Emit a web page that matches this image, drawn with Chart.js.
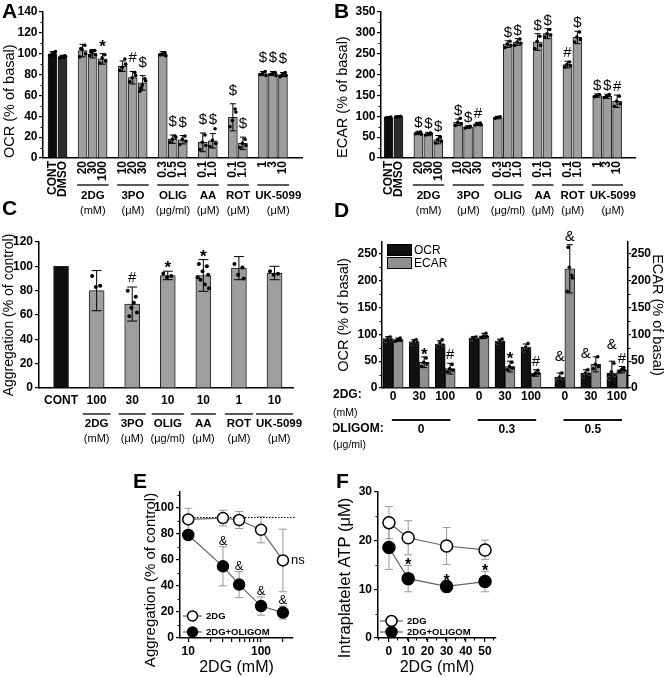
<!DOCTYPE html>
<html>
<head>
<meta charset="utf-8">
<title>Platelet metabolism panels</title>
<script src="https://cdn.jsdelivr.net/npm/chart.js@4.4.1/dist/chart.umd.min.js"></script>
<style>
  body { margin: 0; background: #fff; }
  #fig { position: relative; width: 666px; height: 677px; overflow: hidden; font-family: 'Liberation Sans', Arial, sans-serif; }
  #fig canvas { position: absolute; }
  .panel { position: absolute; font-size: 21px; font-weight: bold; line-height: 21px; color: #000; }
</style>
</head>
<body>
<div id="fig">
  <canvas id="chartA" width="333" height="225" style="left:0;top:0"></canvas>
  <canvas id="chartB" width="333" height="225" style="left:333px;top:0"></canvas>
  <canvas id="chartC" width="333" height="240" style="left:0;top:225px"></canvas>
  <canvas id="chartD" width="333" height="240" style="left:333px;top:225px"></canvas>
  <canvas id="chartE" width="333" height="217" style="left:0;top:460px"></canvas>
  <canvas id="chartF" width="333" height="217" style="left:333px;top:460px"></canvas>
  <div class="panel" style="left:2px;top:0">A</div>
  <div class="panel" style="left:334px;top:0">B</div>
  <div class="panel" style="left:2px;top:197px">C</div>
  <div class="panel" style="left:334px;top:199px">D</div>
  <div class="panel" style="left:133px;top:470px">E</div>
  <div class="panel" style="left:336px;top:470px">F</div>
</div>
<script>
const FONT = "'Liberation Sans', Arial, sans-serif";

// ---- A / B : treatments (slot = category position, gaps between groups)
const slotAB = [0, 1, 3, 4, 5, 7, 8, 9, 11, 12, 13, 15, 16, 18, 19, 21, 22, 23];
const doseAB = ['CONT', 'DMSO', '20', '30', '100', '10', '20', '30', '0.3', '0.5', '1.0', '0.1', '1.0', '0.1', '1.0', '1', '3', '10'];
const drugGroups = [
  { name: '2DG', unit: '(mM)', first: 2, last: 4 },
  { name: '3PO', unit: '(μM)', first: 5, last: 7 },
  { name: 'OLIG', unit: '(μg/ml)', first: 8, last: 10 },
  { name: 'AA', unit: '(μM)', first: 11, last: 12 },
  { name: 'ROT', unit: '(μM)', first: 13, last: 14 },
  { name: 'UK-5099', unit: '(μM)', first: 15, last: 17 }
];

const ocrA = [100, 97, 103, 100, 95, 88, 77, 72, 100, 18, 17.5, 15, 16.5, 39, 14, 81, 81, 80];
const ocrAErr = [2, 1.5, 6, 4, 5, 5, 6, 7, 2, 4, 4, 9, 7, 13, 6, 2, 2, 2];
const ocrASig = ['', '', '', '', '*', '', '#', '$', '', '$', '$', '$', '$', '$', '$', '$', '$', '$'];
const ocrADots = [
  [98, 101, 100, 102], [96, 98, 97, 97.5],
  [97, 108, 104, 100, 105], [98, 103, 101, 99, 102], [91, 99, 96, 93],
  [84, 95, 87, 90], [73, 82, 77, 79], [64, 76, 70, 74, 67],
  [99, 101, 100, 98], [15, 21, 18, 20], [13, 21, 18, 16],
  [8, 22, 15, 12], [11, 28, 17, 14],
  [30, 47, 36, 44], [10, 18, 14, 12],
  [80, 83, 81, 79], [80, 82, 81, 79], [78, 82, 80, 79]
];

const ecarB = [97, 99, 60, 57.5, 44, 85.5, 74, 81.5, 97, 273, 278, 278, 298, 224, 289, 149.5, 148, 136];
const ecarBErr = [1.5, 2, 4, 4, 10, 8, 3, 4, 3, 8, 8, 20, 12, 8, 15, 4, 5, 15];
const ecarBSig = ['', '', '$', '$', '$', '$', '$', '#', '', '$', '$', '$', '$', '#', '$', '$', '$', '#'];
const ecarBDots = [
  [96, 98, 97], [98, 100, 99],
  [58, 62, 60, 57], [55, 60, 57, 58], [36, 50, 44, 40],
  [78, 95, 85, 82], [72, 76, 74], [79, 84, 82, 80],
  [95, 99, 97], [265, 280, 273, 270], [270, 285, 278, 275],
  [262, 292, 280, 270], [290, 308, 298, 295],
  [218, 230, 224, 221], [278, 302, 290, 284],
  [147, 152, 150], [145, 152, 148], [124, 148, 136, 130]
];

// ---- C : aggregation
const doseC = ['CONT', '100', '30', '10', '10', '1', '10'];
const aggC = [100, 80, 69, 92.5, 92.5, 98.5, 94.5];
const aggCErr = [0, 16.5, 14, 3.5, 13, 9.5, 5.5];
const aggCSig = ['', '', '#', '*', '*', '', ''];
const aggCDots = [[], [92, 84, 83], [80, 75, 66, 62, 59, 70], [94, 92, 91], [102, 100, 96, 93, 89, 85, 82, 91], [102, 99, 93, 90], [96, 94, 93]];
const groupsC = [
  { name: '2DG', unit: '(mM)' }, { name: '3PO', unit: '(μM)' }, { name: 'OLIG', unit: '(μg/ml)' },
  { name: 'AA', unit: '(μM)' }, { name: 'ROT', unit: '(μM)' }, { name: 'UK-5099', unit: '(μM)' }
];

// ---- D : OCR / ECAR with 2DG and oligomycin
const slotD = [0, 1, 2, 3.3, 4.3, 5.3, 6.6, 7.6, 8.6];
const doseD = ['0', '30', '100', '0', '30', '100', '0', '30', '100'];
const oligoD = ['0', '0.3', '0.5'];
const ocrD = [92, 86, 82, 93, 87, 76, 20, 28, 28];
const ocrDErr = [4, 4, 6, 3, 4, 6, 8, 6, 22];
const ocrDSig = ['', '', '', '', '', '', '&', '&', '&'];
const ecarD = [90, 48, 36, 97, 40, 28, 222, 44, 34];
const ecarDErr = [3, 10, 10, 5, 10, 6, 45, 14, 6];
const ecarDSig = ['', '*', '#', '', '*', '#', '&', '', '#'];
const ocrDDots = [[88, 95, 92, 90], [82, 90, 87, 85], [78, 90, 84, 80], [91, 95, 93], [84, 91, 87], [70, 83, 76, 73], [14, 28, 20, 17], [22, 34, 28, 26], [18, 46, 30, 24]];
const ecarDDots = [[87, 93, 90, 89], [40, 56, 48, 45], [30, 44, 36, 33], [94, 102, 97, 96], [34, 48, 40, 37], [24, 33, 28, 27], [180, 210, 225, 205, 262], [36, 58, 44, 40], [30, 38, 34, 33]];

// ---- E : aggregation vs 2DG (log)
const doseE = [10, 30, 50, 100, 200];
const ticksE = [10, 20, 30, 40, 50, 60, 70, 80, 90, 100, 200];
const labelsE = [10, 100];
const aggE = [91, 92, 90.5, 83, 59.5];
const aggEErr = [8.5, 6, 6.5, 10, 24];
const aggEO = [79, 55, 41, 24.5, 19.5];
const aggEOErr = [3, 15, 10, 7, 5];
const sigEO = ['', '&', '&', '&', '&'];
const ctrlLevelE = 93;

// ---- F : intraplatelet ATP
const doseF = [0, 10, 30, 50];
const ticksF = [0, 10, 20, 30, 40, 50];
const atpF = [23.7, 20.6, 18.9, 18.1];
const atpFErr = [3.3, 3.5, 3.8, 2];
const atpFO = [18.6, 12.2, 10.6, 11.6];
const atpFOErr = [4.5, 2.7, 1.2, 2.1];
const sigFO = ['', '*', '*', '*'];

Chart.defaults.font.family = FONT;
Chart.defaults.color = '#000';

const tickFont = { family: FONT, size: 12, weight: 'bold' };
const JIT = [-0.28, 0.22, -0.05, 0.3, -0.18, 0.1, 0.35, -0.35];

function dotData(xs, dots, shift, spread) {
  const pts = [];
  dots.forEach((vals, i) => vals.forEach((v, k) => pts.push({ x: xs[i] + shift + JIT[k % JIT.length] * spread, y: v })));
  return pts;
}

function line(ctx, x1, y1, x2, y2) {
  ctx.beginPath(); ctx.moveTo(x1, y1); ctx.lineTo(x2, y2); ctx.stroke();
}

function text(ctx, s, x, y, font, align, base) {
  ctx.font = font;
  ctx.fillStyle = '#000';
  ctx.textAlign = align || 'center';
  ctx.textBaseline = base || 'middle';
  ctx.fillText(s, x, y);
}

// group captions under the axis; names are pushed right when they would touch
function groupCaptions(ctx, spans, yLine, yName, yUnit) {
  let prevRight = -Infinity;
  spans.forEach(g => {
    ctx.strokeStyle = '#222'; ctx.lineWidth = 1.5;
    line(ctx, g.x1, yLine, g.x2, yLine);
    ctx.font = 'bold 11.5px ' + FONT;
    const w = ctx.measureText(g.name).width;
    const cx = Math.max((g.x1 + g.x2) / 2, prevRight + 5 + w / 2);
    prevRight = cx + w / 2;
    text(ctx, g.name, cx, yName, 'bold 11.5px ' + FONT);
    text(ctx, g.unit, cx, yUnit, '11px ' + FONT);
  });
}

// error bars + significance marks, sets = [{ds, means, errs, sig, ...}]
function errPlugin(sets, under) {
  const draw = chart => {
    const ctx = chart.ctx;
    sets.forEach(s => {
      const meta = chart.getDatasetMeta(s.ds);
      const ys = chart.scales[meta.yAxisID];
      meta.data.forEach((el, i) => {
        const m = s.means[i], e = s.errs[i];
        const top = ys.getPixelForValue(m + e), bot = ys.getPixelForValue(m - e);
        ctx.save();
        ctx.strokeStyle = s.color || '#000';
        ctx.lineWidth = s.lw || 1;
        if (e > 0) {
          line(ctx, el.x, top, el.x, bot);
          line(ctx, el.x - s.cap, top, el.x + s.cap, top);
          line(ctx, el.x - s.cap, bot, el.x + s.cap, bot);
        }
        const t = s.sig && s.sig[i];
        if (t) {
          const font = t === '*' ? (s.starFont || 'bold 17px ' + FONT) : (s.sigFont || '15px ' + FONT);
          text(ctx, t, el.x, top - s.gap + (t === '*' ? 7 : 0), font, 'center', 'alphabetic');
        }
        ctx.restore();
      });
    });
  };
  return under ? { id: 'errUnder', beforeDatasetsDraw: draw } : { id: 'errOver', afterDatasetsDraw: draw };
}

function drawMinor(chart, id, step, major) {
  const s = chart.scales[id], ctx = chart.ctx;
  ctx.save(); ctx.strokeStyle = '#000'; ctx.lineWidth = 1;
  for (let v = s.min; v <= s.max + 1e-9; v += step) {
    if (Math.abs(v / major - Math.round(v / major)) < 1e-6) continue;
    const p = Math.round(s.getPixelForValue(v)) + 0.5;
    if (s.isHorizontal()) line(ctx, p, s.top, p, s.top + 2.5);
    else if (s.position === 'right') line(ctx, s.left, p, s.left + 2.5, p);
    else line(ctx, s.right, p, s.right - 2.5, p);
  }
  ctx.restore();
}

function yAxis(o) {
  return {
    position: o.pos || 'left', min: o.min, max: o.max,
    ticks: { stepSize: o.step, includeBounds: false, font: tickFont, color: '#000', padding: o.pad == null ? 2 : o.pad },
    grid: { drawOnChartArea: false, drawTicks: true, tickLength: o.tl || 4, color: '#000', lineWidth: 1.2 },
    border: { color: '#000', width: 1.5 },
    title: o.title
      ? { display: true, text: o.title, font: { family: FONT, size: o.titleSize || 14.5 }, color: '#000', padding: { top: o.tpad == null ? 1 : o.tpad, bottom: 0 }, align: o.align || 'center' }
      : { display: false },
    afterFit: s => { s.width = o.width; }
  };
}

function xAxis(o) {
  return {
    type: o.type || 'linear', min: o.min, max: o.max, offset: false,
    afterBuildTicks: s => { s.ticks = o.ticks.map(v => ({ value: v })); },
    ticks: { autoSkip: false, maxRotation: o.rot || 0, minRotation: o.rot || 0, font: tickFont, color: '#000', padding: o.pad, callback: o.label },
    grid: o.marks ? { drawOnChartArea: false, drawTicks: true, tickLength: 4, color: '#000', lineWidth: 1.2, offset: false } : { display: false, drawTicks: false, offset: false },
    border: { color: '#000', width: 1.5 },
    title: o.title ? { display: true, text: o.title, font: { family: FONT, size: 16 }, color: '#000', padding: { top: 0, bottom: 0 } } : { display: false },
    afterFit: s => { s.height = o.height; }
  };
}

const baseOpts = {
  responsive: false, animation: false, devicePixelRatio: 1,
  events: [],
  plugins: { legend: { display: false }, tooltip: { enabled: false } }
};

// ---------- A and B ----------
function treatmentChart(id, o) {
  const colors = doseAB.map((d, i) => i === 0 ? '#0d0d0d' : i === 1 ? '#2b2b2b' : '#9e9e9e');
  return new Chart(document.getElementById(id), {
    type: 'bar',
    data: {
      datasets: [
        { data: slotAB.map((x, i) => ({ x, y: o.means[i] })), backgroundColor: colors, borderColor: '#222', borderWidth: 1, barThickness: 9, order: 1 },
        { type: 'scatter', data: dotData(slotAB, o.dots, 0, 1), pointRadius: 1.8, backgroundColor: '#000', borderWidth: 0, order: 0 }
      ]
    },
    options: Object.assign({}, baseOpts, {
      layout: { padding: { top: 12, right: 31, left: 0, bottom: 0 } },
      scales: {
        x: xAxis({ min: o.xMin, max: o.xMax, ticks: slotAB, rot: 90, pad: 3, height: 67, label: (v, i) => doseAB[i] }),
        y: yAxis({ min: 0, max: o.yMax, step: o.step, width: o.yWidth, title: o.title, align: 'start', tl: 4, pad: 1.5 })
      }
    }),
    plugins: [
      errPlugin([{ ds: 0, means: o.means, errs: o.errs, sig: o.sig, cap: 3, gap: o.gap }]),
      {
        id: 'groups',
        afterDraw(chart) {
          const ctx = chart.ctx, xs = chart.scales.x;
          drawMinor(chart, 'y', o.minor, o.step);
          ctx.save();
          groupCaptions(ctx, drugGroups.map(g => ({
            name: g.name, unit: g.unit,
            x1: xs.getPixelForValue(slotAB[g.first] - 0.55),
            x2: xs.getPixelForValue(slotAB[g.last] + 0.6)
          })), 185, 196, 211);
          ctx.restore();
        }
      }
    ]
  });
}

treatmentChart('chartA', {
  means: ocrA, errs: ocrAErr, sig: ocrASig, dots: ocrADots, xMin: -0.95, xMax: 24.9,
  yMax: 140, step: 20, minor: 10, yWidth: 43, title: 'OCR (% of basal)', gap: 9
});
treatmentChart('chartB', {
  means: ecarB, errs: ecarBErr, sig: ecarBSig, dots: ecarBDots, xMin: -0.76, xMax: 24.8,
  yMax: 350, step: 50, minor: 25, yWidth: 48, title: 'ECAR (% of basal)', gap: 4
});

// ---------- C ----------
const slotC = doseC.map((d, i) => i);
new Chart(document.getElementById('chartC'), {
  type: 'bar',
  data: {
    datasets: [
      { data: slotC.map(x => ({ x, y: aggC[x] })), backgroundColor: slotC.map(i => i === 0 ? '#0d0d0d' : '#9e9e9e'), borderColor: '#222', borderWidth: 1, barThickness: 15, order: 1 },
      { type: 'scatter', data: dotData(slotC, aggCDots, 0, 0.45), pointRadius: 2, backgroundColor: '#000', borderWidth: 0, order: 0 }
    ]
  },
  options: Object.assign({}, baseOpts, {
    layout: { padding: { top: 17, right: 40, left: 0, bottom: 0 } },
    scales: {
      x: xAxis({ min: -0.62, max: 6.52, ticks: slotC, pad: 5, height: 77, label: (v, i) => doseC[i] }),
      y: yAxis({ min: 0, max: 120, step: 20, width: 39, title: 'Aggregation (% of control)', titleSize: 14, tl: 4, pad: 2 })
    }
  }),
  plugins: [
    errPlugin([{ ds: 0, means: aggC, errs: aggCErr, sig: aggCSig, cap: 5, gap: 5 }]),
    {
      id: 'groupsC',
      afterDraw(chart) {
        const ctx = chart.ctx, xs = chart.scales.x;
        ctx.save();
        ctx.font = 'bold 11.5px ' + FONT;
        groupCaptions(ctx, groupsC.map((g, k) => {
          const cx = xs.getPixelForValue(slotC[k + 1]);
          const w = Math.min(Math.max(ctx.measureText(g.name).width + 4, 25), 37);
          return { name: g.name, unit: g.unit, x1: cx - w / 2, x2: cx + w / 2 };
        }), 189, 199, 214);
        ctx.restore();
      }
    }
  ]
});

// ---------- D ----------
new Chart(document.getElementById('chartD'), {
  type: 'bar',
  data: {
    datasets: [
      { label: 'OCR', data: slotD.map((x, i) => ({ x, y: ocrD[i] })), backgroundColor: '#111', borderColor: '#000', borderWidth: 1, barThickness: 10, yAxisID: 'y', order: 2 },
      { label: 'ECAR', data: slotD.map((x, i) => ({ x, y: ecarD[i] })), backgroundColor: '#8f8f8f', borderColor: '#222', borderWidth: 1, barThickness: 10, yAxisID: 'y2', order: 3 },
      { type: 'scatter', data: dotData(slotD, ocrDDots, -0.19, 0.35), pointRadius: 1.8, backgroundColor: '#000', borderColor: '#777', borderWidth: 0.6, yAxisID: 'y', order: 0 },
      { type: 'scatter', data: dotData(slotD, ecarDDots, 0.19, 0.35), pointRadius: 1.8, backgroundColor: '#000', borderWidth: 0, yAxisID: 'y2', order: 1 }
    ]
  },
  options: Object.assign({}, baseOpts, {
    layout: { padding: { top: 17, right: 0, left: 0, bottom: 0 } },
    scales: {
      x: xAxis({ min: -0.43, max: 9.03, ticks: slotD, pad: 1, height: 77, label: (v, i) => doseD[i] }),
      y: yAxis({ min: 0, max: 272, step: 50, width: 49, title: 'OCR (% of basal)', tl: 3, pad: 1.5, tpad: 2 }),
      y2: yAxis({ pos: 'right', min: 0, max: 272, step: 50, width: 38, title: 'ECAR (% of basal)', tl: 3, pad: 0, tpad: 0 })
    }
  }),
  plugins: [
    errPlugin([
      { ds: 0, means: ocrD, errs: ocrDErr, sig: ocrDSig, cap: 3, gap: 12 },
      { ds: 1, means: ecarD, errs: ecarDErr, sig: ecarDSig, cap: 3, gap: 4 }
    ]),
    {
      id: 'decoD',
      afterDraw(chart) {
        const ctx = chart.ctx, xs = chart.scales.x;
        drawMinor(chart, 'y', 25, 50);
        drawMinor(chart, 'y2', 25, 50);
        ctx.save();
        // legend
        ctx.strokeStyle = '#000'; ctx.lineWidth = 1;
        ctx.fillStyle = '#111'; ctx.fillRect(54.5, 19.5, 24, 11); ctx.strokeRect(54.5, 19.5, 24, 11);
        ctx.fillStyle = '#8f8f8f'; ctx.fillRect(54.5, 32.5, 24, 11); ctx.strokeRect(54.5, 32.5, 24, 11);
        text(ctx, 'OCR', 81, 25.5, '12px ' + FONT, 'left');
        text(ctx, 'ECAR', 81, 38.5, '12px ' + FONT, 'left');
        // row captions
        text(ctx, '2DG:', 0, 170, 'bold 12px ' + FONT, 'left');
        text(ctx, '(mM)', 0, 188, '10.5px ' + FONT, 'left');
        text(ctx, 'OLIGOM:', -2, 204, 'bold 12px ' + FONT, 'left');
        text(ctx, '(μg/ml)', 0, 220, '10.5px ' + FONT, 'left');
        oligoD.forEach((lab, k) => {
          const x1 = xs.getPixelForValue(slotD[k * 3] - 0.05);
          const x2 = xs.getPixelForValue(slotD[k * 3 + 2] + 0.2);
          ctx.strokeStyle = '#111'; ctx.lineWidth = 2;
          line(ctx, x1, 195, x2, 195);
          text(ctx, lab, (x1 + x2) / 2, 205, 'bold 12px ' + FONT);
        });
        ctx.restore();
      }
    }
  ]
});

// ---------- E and F ----------
function doseLine(vals, fill, r) {
  return {
    data: vals, borderColor: '#666', borderWidth: 1.2, tension: 0,
    pointRadius: r, pointBorderColor: '#000', pointBorderWidth: 1.5, pointBackgroundColor: fill
  };
}

function legendRows(ctx, x1, x2, rows, r) {
  rows.forEach(row => {
    ctx.strokeStyle = '#666'; ctx.lineWidth = 1.2;
    line(ctx, x1, row.y, x2, row.y);
    ctx.beginPath(); ctx.arc((x1 + x2) / 2, row.y, r, 0, Math.PI * 2);
    ctx.fillStyle = row.fill; ctx.fill();
    ctx.strokeStyle = '#000'; ctx.lineWidth = 1.5; ctx.stroke();
    text(ctx, row.label, x2 + 4, row.y + 0.5, 'bold 9.5px ' + FONT, 'left');
  });
}

new Chart(document.getElementById('chartE'), {
  type: 'line',
  data: {
    datasets: [
      doseLine(doseE.map((x, i) => ({ x, y: aggE[i] })), '#fff', 5.5),
      doseLine(doseE.map((x, i) => ({ x, y: aggEO[i] })), '#000', 5.5)
    ]
  },
  options: Object.assign({}, baseOpts, {
    layout: { padding: { top: 32, right: 40, left: 140, bottom: 0 } },
    scales: {
      x: xAxis({ type: 'logarithmic', min: 7.7, max: 275, ticks: ticksE, marks: true, pad: 2, height: 39, title: '2DG (mM)', label: v => labelsE.includes(v) ? String(v) : '' }),
      y: yAxis({ min: 0, max: 112, step: 20, width: 40, tl: 4, pad: 2 })
    }
  }),
  plugins: [
    errPlugin([
      { ds: 0, means: aggE, errs: aggEErr, cap: 4, gap: 0, color: '#999' },
      { ds: 1, means: aggEO, errs: aggEOErr, sig: sigEO, cap: 4, gap: 2, color: '#999', sigFont: '13px ' + FONT }
    ], true),
    {
      id: 'decoE',
      beforeDatasetsDraw(chart) {
        const ctx = chart.ctx, a = chart.chartArea, ys = chart.scales.y;
        const y = Math.round(ys.getPixelForValue(ctrlLevelE)) + 0.5;
        ctx.save(); ctx.strokeStyle = '#000'; ctx.lineWidth = 1.2; ctx.setLineDash([1.5, 1.5]);
        line(ctx, a.left + 2, y, a.right + 3, y);
        ctx.restore();
      },
      afterDraw(chart) {
        const ctx = chart.ctx;
        drawMinor(chart, 'y', 10, 20);
        ctx.save();
        const meta = chart.getDatasetMeta(0), last = meta.data[meta.data.length - 1];
        text(ctx, 'ns', last.x + 8, last.y, '13px ' + FONT, 'left');
        legendRows(ctx, 183, 202, [{ y: 156, fill: '#fff', label: '2DG' }, { y: 172, fill: '#000', label: '2DG+OLIGOM' }], 5);
        ctx.translate(151, 120); ctx.rotate(-Math.PI / 2);
        text(ctx, 'Aggregation (% of control)', 0, 0, '15px ' + FONT);
        ctx.restore();
      }
    }
  ]
});

new Chart(document.getElementById('chartF'), {
  type: 'line',
  data: {
    datasets: [
      doseLine(doseF.map((x, i) => ({ x, y: atpF[i] })), '#fff', 6),
      doseLine(doseF.map((x, i) => ({ x, y: atpFO[i] })), '#000', 6)
    ]
  },
  options: Object.assign({}, baseOpts, {
    layout: { padding: { top: 32, right: 170, left: 0, bottom: 0 } },
    scales: {
      x: xAxis({ min: -5.7, max: 55.7, ticks: ticksF, marks: true, pad: 2, height: 39, title: '2DG (mM)', label: v => String(v) }),
      y: yAxis({ min: 0, max: 30, step: 10, width: 45, tl: 4, pad: 2 })
    }
  }),
  plugins: [
    errPlugin([
      { ds: 0, means: atpF, errs: atpFErr, cap: 4, gap: 0, color: '#999' },
      { ds: 1, means: atpFO, errs: atpFOErr, sig: sigFO, cap: 4, gap: 2, color: '#999', starFont: 'bold 16px ' + FONT }
    ], true),
    {
      id: 'decoF',
      afterDraw(chart) {
        const ctx = chart.ctx;
        drawMinor(chart, 'y', 5, 10);
        drawMinor(chart, 'x', 5, 10);
        ctx.save();
        legendRows(ctx, 47, 70, [{ y: 161, fill: '#fff', label: '2DG' }, { y: 172, fill: '#000', label: '2DG+OLIGOM' }], 5.5);
        ctx.translate(12, 118); ctx.rotate(-Math.PI / 2);
        text(ctx, 'Intraplatelet ATP (μM)', 0, 0, '16.5px ' + FONT);
        ctx.restore();
      }
    }
  ]
});
</script>
</body>
</html>
